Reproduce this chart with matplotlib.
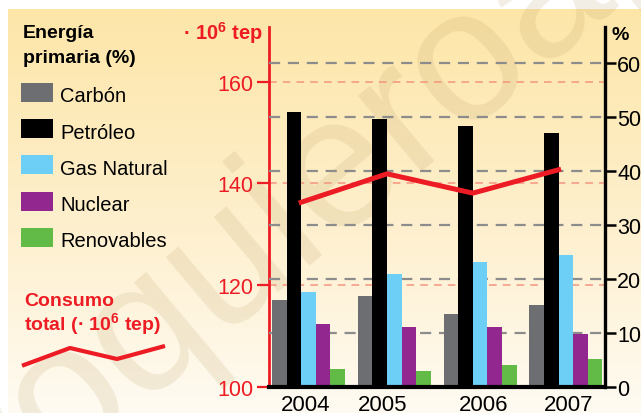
import numpy as np
import matplotlib
matplotlib.use("Agg")
import matplotlib.pyplot as plt
from matplotlib.patches import Rectangle
from matplotlib.lines import Line2D
from matplotlib.colors import LinearSegmentedColormap

plt.rcParams["font.family"] = ["Liberation Sans", "DejaVu Sans"]
plt.rcParams["mathtext.fontset"] = "custom"
plt.rcParams["mathtext.rm"] = "Liberation Sans"
plt.rcParams["mathtext.bf"] = "Liberation Sans:bold"

# ---- data -------------------------------------------------------------
years = ["2004", "2005", "2006", "2007"]
carbon = [16.1, 16.8, 13.5, 15.1]
petroleo = [50.8, 49.6, 48.3, 47.0]
gas_natural = [17.5, 20.9, 23.1, 24.4]
nuclear = [11.6, 11.1, 11.1, 9.8]
renovables = [3.3, 2.9, 4.0, 5.1]
consumo_total = [136.3, 141.9, 138.1, 142.7]   # 10^6 tep

series_names = ["Carbón", "Petróleo", "Gas Natural", "Nuclear", "Renovables"]
series_values = [carbon, petroleo, gas_natural, nuclear, renovables]
series_colors = ["#6D6E71", "#000000", "#6DCFF6", "#92278F", "#62BB46"]

pct_ticks = [0, 10, 20, 30, 40, 50, 60]
tep_ticks = [100, 120, 140, 160]

RED = "#ED1C24"
W, H = 641, 414

fig = plt.figure(figsize=(W / 100, H / 100), dpi=100)


def fx(x):
    return x / W


def fy(y):
    return 1 - y / H


# ---- warm gradient backdrop --------------------------------------------
bg = fig.add_axes([fx(8), 0, 1 - fx(8), fy(10)], zorder=-10)
cmap = LinearSegmentedColormap.from_list(
    "warm", [(0.0, "#FFFBF2"), (0.45, "#FEF0CF"), (1.0, "#FDE6A8")])
grad = np.linspace(0, 1, 256).reshape(-1, 1)
bg.imshow(grad, aspect="auto", cmap=cmap, origin="lower",
          extent=[0, 1, 0, 1])
bg.set_axis_off()

# faint site watermark
fig.text(fx(-11), fy(534), "yoquieroaprobar", rotation=40,
         rotation_mode="anchor", ha="left", va="baseline",
         fontsize=135, color="#B89A62", alpha=0.17, zorder=-5)

# ---- main axes --------------------------------------------------------
ax = fig.add_axes([fx(269), fy(387.7), fx(604.7) - fx(269),
                   fy(28) - fy(387.7)])
ax.patch.set_alpha(0)
ax2 = ax.twinx()
ax2.patch.set_alpha(0)

x = np.arange(len(years))
bw = 0.17
offsets = [-2, -1, 0, 1, 2]

# left axis: total consumption (10^6 tep)
ax.set_ylim(100, 170.8)
ax.set_xlim(-0.46, 3.452)
ax.set_yticks(tep_ticks)
ax.tick_params(axis="y", colors=RED, labelcolor=RED, labelsize=15.5,
               length=9, width=1.6, direction="out", pad=2)
ax.set_yticklabels([str(t) for t in tep_ticks])
for t in tep_ticks[1:]:
    ax.axhline(t, color="#F5957F", lw=1.1, dashes=(5, 4), zorder=0)
for s in ["top", "right", "bottom"]:
    ax.spines[s].set_visible(False)
ax.spines["left"].set_color(RED)
ax.spines["left"].set_linewidth(2)

label_shift = [-0.03, -0.134, 0.045, 0.036]
ax.set_xticks([xi + d for xi, d in zip(x, label_shift)])
ax.set_xticklabels(years, fontsize=16)
ax.tick_params(axis="x", length=0, pad=5.5)

# right axis: share of primary energy (%)
ax2.set_ylim(0, 66.6)
ax2.set_yticks(pct_ticks)
ax2.set_yticklabels([str(t) for t in pct_ticks])
ax2.tick_params(axis="y", colors="black", labelsize=15.5, length=8,
                width=1.8, direction="out", pad=1)
for t in pct_ticks[1:]:
    ax2.axhline(t, color="#8C8C8C", lw=1.6, dashes=(5, 3.5), zorder=0.5)
for s in ["top", "left"]:
    ax2.spines[s].set_visible(False)
ax2.spines["right"].set_linewidth(2.4)
ax2.spines["bottom"].set_visible(True)
ax2.spines["bottom"].set_linewidth(3)
ax2.spines["bottom"].set_zorder(5)

for vals, col, off in zip(series_values, series_colors, offsets):
    ax2.bar(x + off * bw, vals, width=bw, color=col, linewidth=0, zorder=2)

# consumption line drawn above the bars, in left-axis units
ax2.plot(x - bw / 2, consumo_total, color=RED, lw=3.6,
         solid_joinstyle="miter", transform=ax.transData, zorder=4,
         clip_on=False)

# axis titles
fig.text(fx(183), fy(40), r"· 10$^{\mathbf{6}}$ tep", color=RED,
         fontsize=14.5, fontweight="bold", ha="left", va="baseline")
fig.text(fx(611), fy(40), "%", color="black", fontsize=14,
         fontweight="bold", ha="left", va="baseline")

# ---- legend panel -----------------------------------------------------
fig.text(fx(23), fy(38), "Energía", fontsize=14, fontweight="bold",
         ha="left", va="baseline")
fig.text(fx(23), fy(63), "primaria (%)", fontsize=14, fontweight="bold",
         ha="left", va="baseline")

for i, (name, col) in enumerate(zip(series_names, series_colors)):
    top = 84 + i * 36.2
    fig.add_artist(Rectangle((fx(21), fy(top + 19)), fx(32), 19 / H,
                             transform=fig.transFigure, color=col,
                             linewidth=0))
    fig.text(fx(60), fy(top + 18.5), name, fontsize=14.5, ha="left",
             va="baseline")

fig.text(fx(24), fy(306.5), "Consumo", color=RED, fontsize=14,
         fontweight="bold", ha="left", va="baseline")
fig.text(fx(24), fy(331.5), r"total (· 10$^{\mathbf{6}}$ tep)", color=RED,
         fontsize=14, fontweight="bold", ha="left", va="baseline")
fig.add_artist(Line2D([fx(24), fx(70), fx(117), fx(163)],
                      [fy(366), fy(349), fy(360), fy(347.5)],
                      transform=fig.transFigure, color=RED, lw=3))

fig.savefig("out.png", dpi=100)
